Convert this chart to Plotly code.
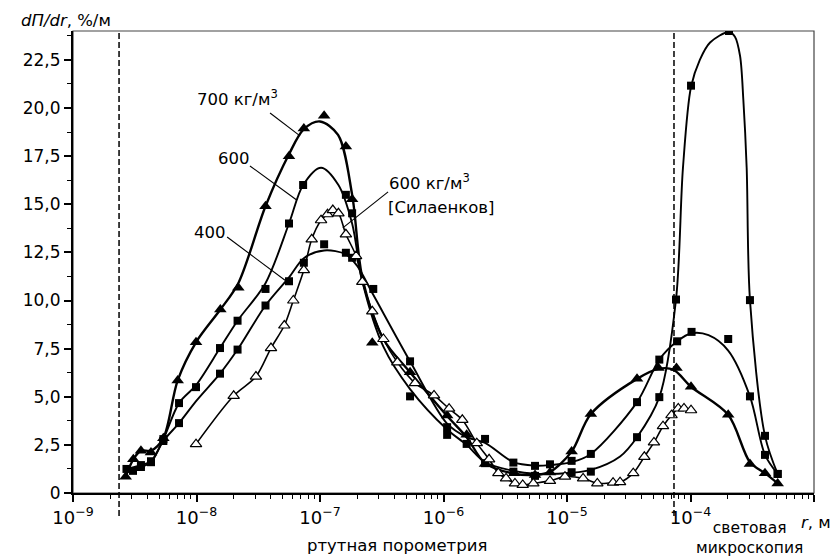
import plotly.graph_objects as go

# ---------------- data ----------------
# 700 kg/m3 : filled triangles
r700 = [2.67e-9, 3.08e-9, 3.55e-9, 4.28e-9, 5.39e-9, 7.04e-9, 9.91e-9, 1.56e-8, 2.18e-8, 3.62e-8,
        5.61e-8, 7.4e-8, 1.08e-7, 1.62e-7, 1.82e-7, 2.65e-7, 5.36e-7, 1.07e-6, 1.54e-6, 2.17e-6,
        3.74e-6, 5.51e-6, 7.28e-6, 1.09e-5, 1.56e-5, 3.69e-5, 5.5e-5, 7.7e-5, 1.01e-4, 2.02e-4,
        3.03e-4, 4.01e-4, 5.08e-4]
v700 = [0.85, 1.75, 2.2, 2.1, 2.85, 5.85, 7.83, 9.53, 10.66, 14.9,
        17.5, 18.94, 19.6, 18.0, 15.26, 7.8, 6.27, 4.03, 3.02, 1.51,
        1.03, 0.94, 1.06, 2.15, 4.1, 5.93, 6.49, 6.5, 5.52, 4.06,
        1.51, 1.03, 0.5]
r700_curve = [2.67e-9, 3.08e-9, 3.55e-9, 4.28e-9, 5.39e-9, 7.04e-9, 9.91e-9, 1.56e-8, 2.18e-8, 3.62e-8,
              5.61e-8, 7.4e-8, 1.0e-7, 1.4e-7, 1.82e-7, 2.2e-7, 3.26e-7, 5.36e-7, 1.07e-6, 1.54e-6,
              2.17e-6, 3.74e-6, 5.51e-6, 7.28e-6, 1.09e-5, 1.56e-5, 3.69e-5, 5.5e-5, 7.3e-5, 1.01e-4,
              2.02e-4, 3.03e-4, 4.01e-4, 5.08e-4]
v700_curve = [0.85, 1.75, 2.2, 2.2, 2.85, 5.85, 7.83, 9.53, 10.9, 14.9,
              17.6, 18.9, 19.3, 18.6, 15.5, 11.2, 8.0, 6.27, 4.0, 2.9,
              1.55, 1.0, 0.94, 1.1, 2.15, 4.1, 5.93, 6.45, 6.4, 5.52,
              4.06, 1.6, 1.03, 0.5]

# 600 kg/m3 : filled squares (curve with the big macro-pore peak)
r600 = [2.71e-9, 3.55e-9, 4.28e-9, 5.39e-9, 7.22e-9, 9.91e-9, 1.55e-8, 2.15e-8, 3.62e-8, 5.61e-8,
        7.3e-8, 1.62e-7, 1.82e-7, 5.36e-7, 1.07e-6, 1.54e-6, 2.17e-6, 3.68e-6, 5.51e-6, 1.09e-5,
        1.56e-5, 3.69e-5, 5.59e-5, 7.63e-5, 1.01e-4, 2.05e-4, 3.03e-4, 4.01e-4, 5.08e-4]
v600 = [1.25, 1.45, 1.65, 2.8, 4.67, 5.5, 7.53, 8.95, 10.6, 14.0,
        16.0, 15.49, 14.53, 5.02, 3.02, 2.55, 1.55, 1.11, 0.89, 1.08,
        1.11, 2.9, 4.98, 10.05, 21.16, 24.0, 10.02, 2.97, 0.99]
r600_curve = [2.71e-9, 3.55e-9, 4.28e-9, 5.39e-9, 7.22e-9, 9.91e-9, 1.55e-8, 2.15e-8, 3.62e-8, 5.61e-8,
              7.3e-8, 1.02e-7, 1.41e-7, 1.82e-7, 2.2e-7, 3.26e-7, 5.36e-7, 1.07e-6, 1.54e-6, 2.17e-6,
              3.68e-6, 5.51e-6, 1.09e-5, 1.56e-5, 2.69e-5, 3.69e-5, 5.59e-5, 7.63e-5, 8.69e-5, 1.01e-4,
              1.19e-4, 1.44e-4, 2.05e-4, 2.29e-4, 2.52e-4, 2.68e-4, 2.85e-4, 3.03e-4, 4.01e-4, 5.08e-4]
v600_curve = [1.25, 1.45, 1.65, 2.8, 4.67, 5.6, 7.53, 8.95, 10.9, 14.0,
              16.0, 16.9, 16.0, 14.0, 11.0, 7.6, 5.4, 3.3, 2.5, 1.6,
              1.15, 1.0, 1.05, 1.2, 1.9, 2.9, 4.98, 10.05, 16.9, 21.1,
              22.5, 23.4, 23.95, 23.7, 22.7, 20.4, 16.9, 10.02, 2.97, 0.99]

# 400 kg/m3 : filled squares
r400 = [3.06e-9, 3.55e-9, 4.28e-9, 5.39e-9, 7.22e-9, 1.55e-8, 2.15e-8, 3.62e-8, 5.61e-8, 7.4e-8,
        1.08e-7, 1.62e-7, 1.82e-7, 2.7e-7, 5.36e-7, 1.07e-6, 2.17e-6, 3.68e-6, 5.51e-6, 7.28e-6,
        1.09e-5, 1.56e-5, 3.69e-5, 5.59e-5, 7.8e-5, 1.02e-4, 2.02e-4, 3.03e-4, 4.01e-4, 5.08e-4]
v400 = [1.15, 1.35, 1.6, 2.7, 3.63, 6.2, 7.45, 9.74, 11.0, 11.96,
        12.92, 12.48, 12.22, 10.6, 6.84, 3.42, 2.81, 1.58, 1.41, 1.49,
        1.67, 2.03, 4.72, 6.93, 7.88, 8.37, 8.0, 5.02, 1.98, 0.99]
r400_curve = [3.06e-9, 3.55e-9, 4.28e-9, 5.39e-9, 7.22e-9, 1.0e-8, 1.55e-8, 2.15e-8, 3.62e-8, 5.61e-8,
              7.4e-8, 1.08e-7, 1.62e-7, 2.0e-7, 2.7e-7, 5.36e-7, 1.07e-6, 1.54e-6, 2.17e-6, 3.68e-6,
              5.51e-6, 7.28e-6, 1.09e-5, 1.56e-5, 3.69e-5, 5.59e-5, 7.8e-5, 1.02e-4, 1.4e-4, 2.02e-4,
              3.03e-4, 4.01e-4, 5.08e-4]
v400_curve = [1.15, 1.35, 1.6, 2.7, 3.63, 4.8, 6.2, 7.45, 9.74, 11.2,
              12.2, 12.6, 12.4, 11.8, 10.3, 6.84, 3.6, 2.9, 2.6, 1.6,
              1.42, 1.45, 1.6, 2.03, 4.72, 6.93, 7.88, 8.3, 8.2, 7.4,
              5.02, 1.98, 0.99]

# 600 kg/m3 [Силаенков] : open triangles
rSil = [9.91e-9, 2.0e-8, 3.03e-8, 4.01e-8, 5.14e-8, 6.08e-8, 7.4e-8, 8.57e-8, 1.02e-7, 1.15e-7,
        1.27e-7, 1.41e-7, 1.62e-7, 1.96e-7, 2.2e-7, 2.65e-7, 3.26e-7, 4.23e-7, 5.88e-7, 8.38e-7,
        1.11e-6, 1.42e-6, 1.86e-6, 2.34e-6, 2.78e-6, 3.21e-6, 3.79e-6, 4.38e-6, 5.34e-6, 7.28e-6,
        9.63e-6, 1.35e-5, 1.76e-5, 2.36e-5, 2.69e-5, 3.44e-5, 4.23e-5, 5.06e-5, 5.99e-5, 7.02e-5,
        7.96e-5, 8.86e-5, 1.01e-4]
vSil = [2.54, 5.05, 6.05, 7.53, 8.7, 10.0, 11.58, 13.18, 14.17, 14.48,
        14.7, 14.53, 13.44, 12.31, 10.97, 9.44, 8.0, 6.79, 5.71, 5.07,
        4.38, 3.8, 2.59, 1.75, 1.03, 0.76, 0.5, 0.42, 0.5, 0.63,
        0.85, 0.76, 0.5, 0.54, 0.56, 1.03, 1.88, 2.63, 3.47, 4.04,
        4.39, 4.39, 4.3]

# leader lines of the curve labels (start -> end)
lead700_r = [3.94e-8, 6.89e-8]; lead700_v = [19.74, 18.55]
lead600_r = [2.71e-8, 6.47e-8]; lead600_v = [16.99, 15.22]
lead400_r = [1.77e-8, 5.31e-8]; lead400_v = [13.3, 11.01]
leadSil_r = [3.56e-7, 1.53e-7]; leadSil_v = [15.64, 13.77]

# method boundaries (dashed)
boundaries = [2.36e-9, 7.35e-5]

x_tickvals = [1e-9, 1e-8, 1e-7, 1e-6, 1e-5, 1e-4, 1e-3]
x_ticktext = ["10<sup>\u22129</sup>", "10<sup>\u22128</sup>", "10<sup>\u22127</sup>",
              "10<sup>\u22126</sup>", "10<sup>\u22125</sup>", "10<sup>\u22124</sup>", ""]
y_tickvals = [0, 2.5, 5, 7.5, 10, 12.5, 15, 17.5, 20, 22.5]
y_ticktext = ["0", "2,5", "5,0", "7,5", "10,0", "12,5", "15,0", "17,5", "20,0", "22,5"]

FONT = "DejaVu Sans"

fig = go.Figure()

# curves
for rc, vc, w in [(r700_curve, v700_curve, 2.4), (r600_curve, v600_curve, 1.9),
                  (r400_curve, v400_curve, 1.9), (rSil, vSil, 1.6)]:
    fig.add_trace(go.Scatter(x=rc, y=vc, mode="lines",
                             line=dict(color="black", width=w, shape="spline", smoothing=0.9),
                             hoverinfo="skip"))

# leader lines
for lr, lv in [(lead700_r, lead700_v), (lead600_r, lead600_v), (lead400_r, lead400_v), (leadSil_r, leadSil_v)]:
    fig.add_trace(go.Scatter(x=lr, y=lv, mode="lines", line=dict(color="black", width=1.1),
                             hoverinfo="skip"))

# markers
fig.add_trace(go.Scatter(x=r700, y=v700, mode="markers",
                         marker=dict(symbol="triangle-up", size=11, color="black")))
fig.add_trace(go.Scatter(x=r600, y=v600, mode="markers",
                         marker=dict(symbol="square", size=8, color="black")))
fig.add_trace(go.Scatter(x=r400, y=v400, mode="markers",
                         marker=dict(symbol="square", size=8, color="black")))
fig.add_trace(go.Scatter(x=rSil, y=vSil, mode="markers",
                         marker=dict(symbol="triangle-up", size=10, color="white",
                                     line=dict(color="black", width=1.2))))

shapes = [dict(type="rect", xref="paper", yref="paper", x0=0, x1=1, y0=0, y1=1,
               line=dict(color="#444", width=1.2), layer="below")]
for b in boundaries:
    shapes.append(dict(type="line", xref="x", yref="paper", x0=b, x1=b, y0=-0.05, y1=1,
                       line=dict(color="black", width=1.5, dash="6px,3px")))


def px_x(px):
    return (px - 73) / 741.0


def px_y(py):
    return (493 - py) / 462.0


ann_font = dict(family=FONT, size=16.5, color="black")
annotations = [
    dict(text="<i>dП/dr</i>, %/м", x=px_x(19), y=px_y(20), xanchor="left", yanchor="middle"),
    dict(text="<i>r</i>, м", x=px_x(799), y=px_y(522), xanchor="left", yanchor="middle"),
    dict(text="ртутная порометрия", x=px_x(397), y=px_y(545), xanchor="center", yanchor="middle"),
    dict(text="световая<br>микроскопия", x=px_x(749), y=px_y(558.5), xanchor="center", yanchor="bottom",
         font=dict(family=FONT, size=15.5, color="black")),
    dict(text="700 кг/м<sup>3</sup>", x=px_x(195), y=px_y(98), xanchor="left", yanchor="middle"),
    dict(text="600", x=px_x(216), y=px_y(158), xanchor="left", yanchor="middle"),
    dict(text="400", x=px_x(192), y=px_y(232), xanchor="left", yanchor="middle"),
    dict(text="600 кг/м<sup>3</sup>", x=px_x(387), y=px_y(182), xanchor="left", yanchor="middle"),
    dict(text="[Силаенков]", x=px_x(386), y=px_y(208), xanchor="left", yanchor="middle"),
]
for a in annotations:
    a.update(xref="paper", yref="paper", showarrow=False)
    a.setdefault("font", ann_font)

fig.update_layout(
    width=834, height=559,
    margin=dict(l=73, r=20, t=31, b=66),
    paper_bgcolor="white", plot_bgcolor="white",
    showlegend=False,
    shapes=shapes, annotations=annotations,
    xaxis=dict(type="log", range=[-9, -3], tickmode="array", tickvals=x_tickvals, ticktext=x_ticktext,
               ticks="outside", ticklen=7, tickwidth=1.5, tickcolor="black",
               showline=True, linecolor="black", linewidth=2, showgrid=False, zeroline=False,
               tickfont=dict(family=FONT, size=18, color="black"),
               minor=dict(tickmode="array",
                          tickvals=[k * 10.0 ** e for e in range(-9, -3) for k in range(2, 10)],
                          ticks="outside", ticklen=4, tickwidth=1, tickcolor="black", showgrid=False)),
    yaxis=dict(range=[0, 24], tickmode="array", tickvals=y_tickvals, ticktext=y_ticktext,
               ticks="outside", ticklen=7, tickwidth=1.5, tickcolor="black",
               showline=True, linecolor="black", linewidth=2, showgrid=False, zeroline=False,
               tickfont=dict(family=FONT, size=17, color="black"),
               minor=dict(tickmode="array", tickvals=[1.25 + 2.5 * i for i in range(10)],
                          ticks="outside", ticklen=4, tickwidth=1, tickcolor="black", showgrid=False)),
)

fig.write_html("out.html")
